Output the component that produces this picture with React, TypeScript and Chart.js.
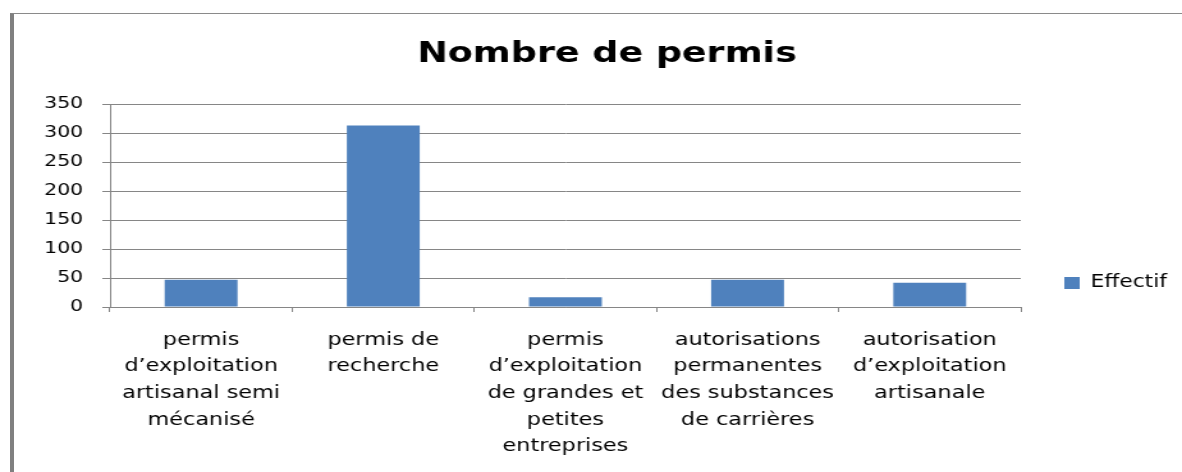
import React, { useEffect, useRef } from 'react';
import { Chart, registerables } from 'chart.js';

Chart.register(...registerables);

// ---- data ----
const categories: string[][] = [
  ['permis', 'd’exploitation', 'artisanal semi', 'mécanisé'],
  ['permis de', 'recherche'],
  ['permis', 'd’exploitation', 'de grandes et', 'petites', 'entreprises'],
  ['autorisations', 'permanentes', 'des substances', 'de carrières'],
  ['autorisation', 'd’exploitation', 'artisanale'],
];
const effectif: number[] = [47, 313, 17, 47, 42];
const seriesName = 'Effectif';
const chartTitle = 'Nombre de permis';
const yMin = 0;
const yMax = 350;
const yStep = 50;

// ---- layout ----
const PAGE_W = 1182;
const PAGE_H = 472;
const CANVAS_W = 924; // internal width, stretched horizontally to PAGE_W
const SX = PAGE_W / CANVAS_W;
const FONT = '"DejaVu Sans", "Open Sans", sans-serif';
const GRID = '#868686';
const BAR = '#4f81bd';
const LEGEND_W = 126;
const LEGEND_CENTER_Y = 283;

const legendPlugin = {
  id: 'legendTweak',
  beforeInit(chart: any) {
    const lg = chart.legend;
    if (!lg || lg.__patched) return;
    const orig = lg.fit;
    lg.fit = function () {
      orig.call(this);
      this.width = LEGEND_W;
    };
    lg.__patched = true;
  },
  afterLayout(chart: any) {
    const lg = chart.legend;
    if (!lg) return;
    lg.top = 2 * LEGEND_CENTER_Y - lg.bottom;
  },
};

export default function App() {
  const ref = useRef<HTMLCanvasElement | null>(null);

  useEffect(() => {
    if (!ref.current) return;
    const chart = new Chart(ref.current, {
      type: 'bar',
      data: {
        labels: categories,
        datasets: [
          {
            label: seriesName,
            data: effectif,
            backgroundColor: BAR,
            borderWidth: 0,
            categoryPercentage: 1,
            barPercentage: 0.4,
          },
        ],
      },
      plugins: [legendPlugin],
      options: {
        animation: false,
        responsive: false,
        maintainAspectRatio: false,
        layout: { padding: { left: 25, right: 0, top: 0, bottom: 0 } },
        plugins: {
          title: {
            display: true,
            text: chartTitle,
            color: '#000',
            font: { family: FONT, size: 28.5, weight: 'bold' },
            padding: { top: 37, bottom: 32.8 },
          },
          legend: {
            display: true,
            position: 'right',
            align: 'center',
            labels: {
              color: '#000',
              font: { family: FONT, size: 17 },
              boxWidth: 12,
              boxHeight: 12,
              padding: 34,
            },
          },
          tooltip: { enabled: false },
        },
        scales: {
          x: {
            grid: {
              display: true,
              drawOnChartArea: false,
              drawTicks: true,
              tickLength: 5,
              color: GRID,
              offset: true,
            },
            border: { display: true, color: GRID, width: 1 },
            ticks: {
              color: '#000',
              font: { family: FONT, size: 17.5, lineHeight: 1.52 },
              padding: 15,
              autoSkip: false,
              maxRotation: 0,
              minRotation: 0,
            },
            afterFit(scale: any) {
              scale.height = 165;
            },
          },
          y: {
            min: yMin,
            max: yMax,
            grid: {
              color: GRID,
              lineWidth: 1,
              drawTicks: true,
              tickLength: 6,
            },
            border: { display: true, color: GRID, width: 1 },
            ticks: {
              stepSize: yStep,
              color: '#000',
              font: { family: FONT, size: 16 },
              padding: 15,
            },
            afterFit(scale: any) {
              scale.width = 61;
            },
          },
        },
      },
    } as any);
    return () => chart.destroy();
  }, []);

  return (
    <div
      style={{
        position: 'fixed',
        left: 0,
        top: 0,
        width: PAGE_W,
        height: PAGE_H,
        overflow: 'hidden',
        background: '#fff',
      }}
    >
      <div
        style={{
          position: 'absolute',
          left: 10,
          top: 13,
          width: PAGE_W,
          height: PAGE_H,
          borderTop: '1px solid #8a8a8a',
          borderLeft: '4px solid #808080',
          boxSizing: 'border-box',
        }}
      />
      <canvas
        ref={ref}
        width={CANVAS_W}
        height={PAGE_H}
        style={{
          position: 'absolute',
          left: 0,
          top: 0,
          width: CANVAS_W + 'px',
          height: PAGE_H + 'px',
          transform: `scaleX(${SX})`,
          transformOrigin: '0 0',
        }}
      />
    </div>
  );
}
